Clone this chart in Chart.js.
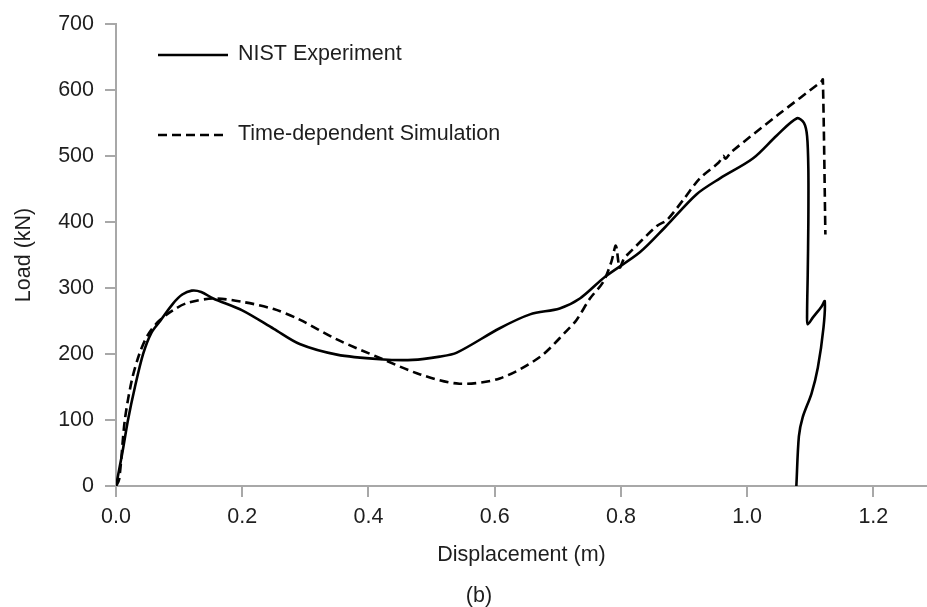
<!DOCTYPE html>
<html lang="en">
<head>
<meta charset="utf-8"/>
<title>Load - Displacement (b)</title>
<script src="https://cdn.jsdelivr.net/npm/chart.js"></script>
<style>
    html, body {
      margin: 0;
      padding: 0;
      background: #fff;
    }
    .grafik {
      position: relative;
      width: 927px;
      height: 607px;
    }
  </style>
</head>
<body>
<div class="grafik">
<canvas id="yukGrafik"></canvas>
</div>
<script>
    // Displacement (m) / Load (kN)
    const nistX = [0, 0.01, 0.019, 0.03, 0.043, 0.056, 0.07, 0.09, 0.105, 0.12, 0.135, 0.154, 0.2, 0.25, 0.291, 0.35, 0.418, 0.47, 0.513, 0.54, 0.608, 0.656, 0.703, 0.735, 0.775, 0.83, 0.87, 0.92, 0.957, 1.009, 1.047, 1.079, 1.09, 1.095, 1.097, 1.097, 1.096, 1.095, 1.096, 1.104, 1.118, 1.123, 1.121, 1.112, 1.102, 1.088, 1.082, 1.078];
    const nistY = [0, 50, 100, 150, 200, 232, 250, 276, 290, 296, 294, 284, 266, 238, 215, 199, 192, 191, 196, 202, 239, 260, 269, 284, 317, 354, 392, 442, 466, 496, 531, 557, 550, 530, 480, 400, 320, 260, 245, 255, 272, 280, 240, 179, 140, 104, 75, 0];

    const simX = [0, 0.005, 0.014, 0.025, 0.037, 0.05, 0.068, 0.09, 0.112, 0.154, 0.2, 0.25, 0.291, 0.35, 0.418, 0.482, 0.544, 0.608, 0.671, 0.714, 0.73, 0.751, 0.772, 0.785, 0.792, 0.798, 0.805, 0.811, 0.857, 0.873, 0.9, 0.925, 0.955, 0.962, 0.966, 0.975, 1.05, 1.118, 1.12, 1.124];
    const simY = [0, 10, 100, 160, 200, 228, 250, 266, 277, 284, 279, 268, 252, 222, 194, 169, 155, 163, 195, 235, 252, 284, 309, 340, 364, 331, 345, 351, 394, 403, 435, 466, 490, 500, 496, 506, 563, 613, 616, 381];

    const xTicks = [0, 0.2, 0.4, 0.6, 0.8, 1.0, 1.2];
    const seriesNames = ['NIST Experiment', 'Time-dependent Simulation'];
    const altYazi = '(b)';

    const yaziTipi = '"Liberation Sans", Arial, sans-serif';
    const eksenRengi = '#a8a8a8';
    const yaziRengi = '#1e1e1e';
    const boyut = 21.5;

    const noktalar = (xs, ys) => xs.map((x, i) => ({ x: x, y: ys[i] }));

    // legend drawn inside the plot + the "(b)" caption under the figure
    const icLejant = {
      id: 'icLejant',
      afterDraw(chart) {
        const ctx = chart.ctx;
        const satirlar = [55, 135];
        ctx.save();
        ctx.font = boyut + 'px ' + yaziTipi;
        ctx.textBaseline = 'middle';
        chart.data.datasets.forEach((ds, i) => {
          const y = satirlar[i];
          ctx.beginPath();
          ctx.setLineDash(ds.borderDash || []);
          ctx.lineWidth = ds.borderWidth;
          ctx.strokeStyle = ds.borderColor;
          ctx.moveTo(158, y);
          ctx.lineTo(228, y);
          ctx.stroke();
          ctx.setLineDash([]);
          ctx.fillStyle = yaziRengi;
          ctx.textAlign = 'left';
          ctx.fillText(ds.label, 238, y - 0.5);
        });
        ctx.textAlign = 'center';
        ctx.fillText(altYazi, 479, 596);
        ctx.restore();
      }
    };

    new Chart(document.getElementById('yukGrafik'), {
      type: 'scatter',
      data: {
        datasets: [{
          label: seriesNames[0],
          data: noktalar(nistX, nistY),
          showLine: true,
          borderColor: '#000',
          borderWidth: 2.6,
          tension: 0.3,
          pointRadius: 0
        }, {
          label: seriesNames[1],
          data: noktalar(simX, simY),
          showLine: true,
          borderColor: '#000',
          borderWidth: 2.6,
          borderDash: [9, 5],
          tension: 0.3,
          pointRadius: 0
        }]
      },
      options: {
        responsive: true,
        maintainAspectRatio: false,
        animation: false,
        layout: { padding: { top: 19, left: 0, right: 0, bottom: 21 } },
        plugins: {
          legend: { display: false },
          tooltip: { enabled: false }
        },
        scales: {
          x: {
            type: 'linear',
            min: 0,
            max: 1.285,
            afterBuildTicks: s => { s.ticks = xTicks.map(v => ({ value: v })); },
            afterFit: s => { s.height = 100; },
            grid: { drawOnChartArea: false, drawTicks: true, tickLength: 11, color: eksenRengi, lineWidth: 2 },
            border: { color: eksenRengi, width: 2 },
            ticks: {
              padding: 7,
              color: yaziRengi,
              font: { family: yaziTipi, size: boyut },
              callback: v => v.toFixed(1)
            },
            title: {
              display: true,
              text: 'Displacement (m)',
              color: yaziRengi,
              font: { family: yaziTipi, size: boyut },
              padding: { top: 0, bottom: 18 }
            }
          },
          y: {
            min: 0,
            max: 700,
            afterFit: s => { s.width = 116; },
            grid: { drawOnChartArea: false, drawTicks: true, tickLength: 11, color: eksenRengi, lineWidth: 2 },
            border: { color: eksenRengi, width: 2 },
            ticks: {
              stepSize: 100,
              padding: 11,
              color: yaziRengi,
              font: { family: yaziTipi, size: boyut }
            },
            title: {
              display: true,
              text: 'Load (kN)',
              color: yaziRengi,
              font: { family: yaziTipi, size: boyut },
              padding: { top: 11, bottom: 0 }
            }
          }
        }
      },
      plugins: [icLejant]
    });
  </script>
</body>
</html>
